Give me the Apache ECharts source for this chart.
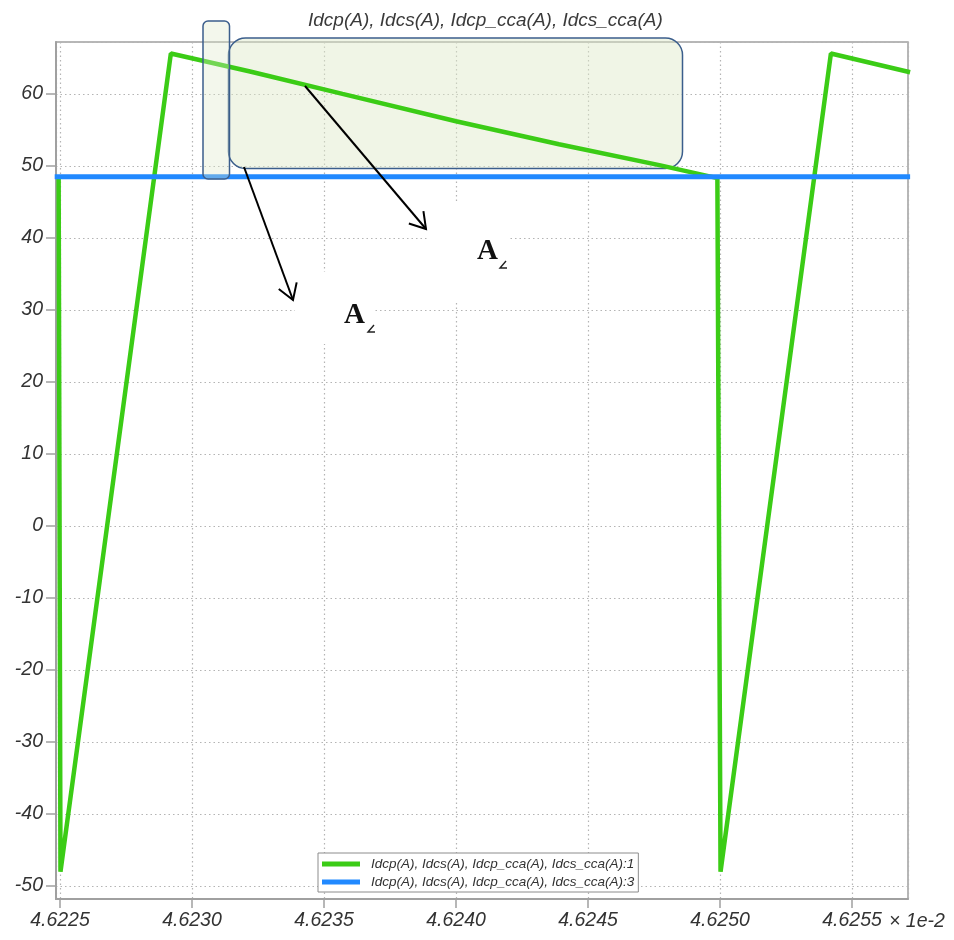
<!DOCTYPE html>
<html><head><meta charset="utf-8">
<script src="https://cdn.jsdelivr.net/npm/echarts@6/dist/echarts.min.js"></script>
<style>html,body{margin:0;padding:0;background:#fff}#c{width:954px;height:940px}</style>
</head><body><div id="c"></div>
<script>
const titleText = 'Idcp(A), Idcs(A), Idcp_cca(A), Idcs_cca(A)';
const seriesNames = [titleText + ':1', titleText + ':3'];
// x in units of 1e-2
const greenX = [4.622495, 4.622502, 4.62292, 4.62322, 4.62357, 4.62400, 4.62439, 4.62477, 4.62499, 4.625002, 4.62542, 4.62572];
const greenY = [48.5, -48.0, 65.6, 63.1, 60.0, 56.2, 53.0, 50.1, 48.3, -48.0, 65.6, 63.0];
const blueX = [4.62248, 4.62572];
const blueY = [48.5, 48.5];
const xTickLabels = [4.6225, 4.6230, 4.6235, 4.6240, 4.6245, 4.6250, 4.6255];
const yTickLabels = [-50, -40, -30, -20, -10, 0, 10, 20, 30, 40, 50, 60];
const xUnit = '× 1e-2';
const annotationLabel = 'A';

const FONT = '"Liberation Sans", Arial, sans-serif';
const chart = echarts.init(document.getElementById('c'), null, {renderer: 'canvas'});

const zip = (xs, ys) => xs.map((x, i) => [x, ys[i]]);

const option = {
  animation: false,
  backgroundColor: '#fff',
  title: {
    text: titleText, left: 303, top: 6,
    textStyle: {fontFamily: FONT, fontStyle: 'italic', fontWeight: 'normal', fontSize: 19, color: '#3a3a3a'}
  },
  legend: {
    orient: 'vertical', left: 318, top: 853,
    backgroundColor: '#fff', borderColor: '#8c8c8c', borderWidth: 1,
    padding: [4, 4, 3, 4], itemGap: 4, itemWidth: 38, itemHeight: 5, icon: 'rect',
    textStyle: {fontFamily: FONT, fontStyle: 'italic', fontSize: 13.5, color: '#333', padding: [0, 0, 0, 6]},
    data: seriesNames
  },
  grid: {left: 56, right: 46, top: 42, bottom: 41, show: true, borderColor: '#a0a0a0', borderWidth: 1.5},
  xAxis: {
    type: 'value', min: 4.622485, max: 4.625712,
    minInterval: 0.0005, maxInterval: 0.0005,
    axisLine: {onZero: false, lineStyle: {color: '#a0a0a0', width: 2}},
    axisTick: {length: 9, lineStyle: {color: '#a0a0a0', width: 1.5}},
    splitLine: {show: true, lineStyle: {color: '#b4b4b4', width: 1.2, type: [1.5, 3]}},
    axisLabel: {
      showMinLabel: false, showMaxLabel: false, margin: 12,
      fontFamily: FONT, fontStyle: 'italic', fontSize: 19.5, color: '#333',
      formatter: v => {
        const m = xTickLabels.find(t => Math.abs(t - v) < 1e-7);
        return m === undefined ? '' : m.toFixed(4);
      }
    }
  },
  yAxis: {
    type: 'value', min: -51.8, max: 67.2,
    minInterval: 10, maxInterval: 10,
    axisLine: {show: true, onZero: false, lineStyle: {color: '#a0a0a0', width: 2}},
    axisTick: {show: true, length: 10, lineStyle: {color: '#a0a0a0', width: 1.5}},
    splitLine: {show: true, lineStyle: {color: '#b4b4b4', width: 1.2, type: [1.5, 3]}},
    axisLabel: {
      showMinLabel: false, showMaxLabel: false, margin: 13,
      fontFamily: FONT, fontStyle: 'italic', fontSize: 19.5, color: '#333',
      formatter: v => {
        const m = yTickLabels.find(t => Math.abs(t - v) < 1e-6);
        return m === undefined ? '' : String(m);
      }
    }
  },
  series: [
    {name: seriesNames[0], type: 'line', data: zip(greenX, greenY), showSymbol: false, symbol: 'none',
     lineStyle: {color: '#3bcc16', width: 4.5}, itemStyle: {color: '#3bcc16'}, z: 3},
    {name: seriesNames[1], type: 'line', data: zip(blueX, blueY), showSymbol: false, symbol: 'none',
     lineStyle: {color: '#2189ff', width: 5}, itemStyle: {color: '#2189ff'}, z: 4}
  ]
};
chart.setOption(option);

function arrow(x1, y1, x2, y2) {
  const dx = x2 - x1, dy = y2 - y1, L = Math.hypot(dx, dy);
  const ux = dx / L, uy = dy / L, hl = 18, a = 32 * Math.PI / 180;
  const w = s => [x2 - hl * (ux * Math.cos(a) - s * uy * Math.sin(a)), y2 - hl * (uy * Math.cos(a) + s * ux * Math.sin(a))];
  return [
    {type: 'polyline', shape: {points: [[x1, y1], [x2, y2]]}, style: {stroke: '#000', lineWidth: 2, fill: null}, z: 120},
    {type: 'polyline', shape: {points: [w(1), [x2, y2], w(-1)]}, style: {stroke: '#000', lineWidth: 2, fill: null}, z: 120}
  ];
}

const px4255 = chart.convertToPixel({xAxisIndex: 0}, 4.6255);
const axisY = chart.convertToPixel({yAxisIndex: 0}, -51.8);
const boxFill = 'rgba(222,232,200,0.45)';
const boxStroke = '#3b5e8c';

const graphics = [
  {type: 'text', z: 100, style: {x: px4255 + 37, y: axisY + 23, text: xUnit, font: 'italic 19.5px ' + FONT, fill: '#333', textVerticalAlign: 'middle'}},
  {type: 'rect', z: 100, shape: {x: 203, y: 21, width: 26.5, height: 158, r: 5}, style: {fill: 'rgba(222,232,200,0.35)', stroke: boxStroke, lineWidth: 1.5}},
  {type: 'rect', z: 1, shape: {x: 228.5, y: 38, width: 454, height: 130.5, r: 17}, style: {fill: boxFill, stroke: boxStroke, lineWidth: 1.5}},
  {type: 'rect', z: 105, shape: {x: 428, y: 203, width: 80, height: 100}, style: {fill: '#fff'}},
  {type: 'rect', z: 105, shape: {x: 295, y: 272, width: 80, height: 72}, style: {fill: '#fff'}},
  ...arrow(244, 167, 293, 300),
  ...arrow(305, 86, 426, 229),
  {type: 'text', z: 130, style: {x: 477, y: 252, text: annotationLabel, font: 'bold 29px "Liberation Serif", "DejaVu Serif", serif', fill: '#111', textVerticalAlign: 'middle'}},
  {type: 'polyline', z: 130, shape: {points: [[506, 261], [500, 268], [507, 268]]}, style: {stroke: '#222', lineWidth: 1.4, fill: null}},
  {type: 'text', z: 130, style: {x: 344, y: 315.5, text: annotationLabel, font: 'bold 29px "Liberation Serif", "DejaVu Serif", serif', fill: '#111', textVerticalAlign: 'middle'}},
  {type: 'polyline', z: 130, shape: {points: [[374, 325], [368, 332], [375, 332]]}, style: {stroke: '#222', lineWidth: 1.4, fill: null}}
];
chart.setOption({graphic: graphics});
</script>
</body></html>
